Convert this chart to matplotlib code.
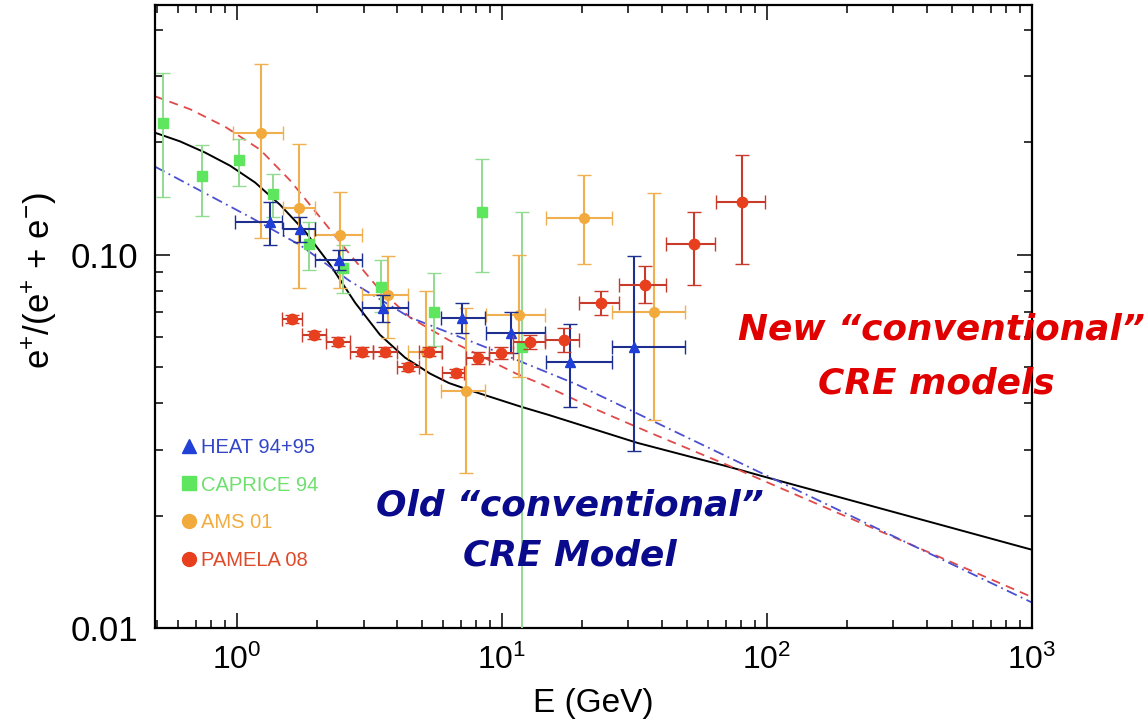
import matplotlib
matplotlib.use("Agg")
import matplotlib.pyplot as plt
from matplotlib.lines import Line2D
from matplotlib.ticker import FixedLocator, FixedFormatter, LogLocator, NullFormatter
import numpy as np

plt.rcParams['font.family'] = ['Liberation Sans', 'DejaVu Sans']
plt.rcParams['mathtext.fontset'] = 'custom'
plt.rcParams['mathtext.rm'] = 'Liberation Sans'
plt.rcParams['mathtext.it'] = 'Liberation Sans:italic'
plt.rcParams['mathtext.default'] = 'regular'

# model curves
black_e = [0.49, 0.609, 0.757, 0.941, 1.169, 1.452, 1.806, 2.244, 2.79, 3.46, 4.3, 5.35, 6.3, 7.57, 11.7,
           15, 32.5, 72, 100, 206, 1000]
black_r = [0.212, 0.201, 0.1876, 0.173, 0.156, 0.136, 0.1153, 0.094, 0.0743, 0.061, 0.053, 0.048, 0.0453,
           0.0433, 0.0392, 0.0372, 0.0313, 0.027, 0.0253, 0.022, 0.0162]

red_e = [0.49, 0.665, 0.901, 1.221, 1.585, 2.112, 2.669, 3.375, 4.5, 6.3, 11.3, 14.1, 21.7, 35.6, 71, 1000]
red_r = [0.2654, 0.245, 0.220, 0.191, 0.158, 0.123, 0.100, 0.082, 0.0678, 0.059, 0.048, 0.045, 0.039,
         0.0335, 0.0273, 0.0121]

blue_e = [0.49, 1.12, 1.73, 2.66, 4.47, 8.4, 19, 90, 1000]
blue_r = [0.172, 0.126, 0.106, 0.085, 0.068, 0.057, 0.045, 0.0265, 0.0117]

# HEAT 94+95
heat_e = [1.33, 1.73, 2.42, 3.54, 7.07, 10.8, 18.0, 31.6]
heat_r = [0.1226, 0.117, 0.097, 0.072, 0.0678, 0.0618, 0.0517, 0.0567]
heat_elo = [0.98, 1.49, 1.96, 2.97, 5.9, 8.7, 14.6, 25.9]
heat_ehi = [1.48, 1.96, 2.97, 4.4, 8.6, 14.5, 25.9, 49]
heat_rlo = [0.106, 0.108, 0.091, 0.066, 0.0618, 0.0546, 0.039, 0.0298]
heat_rhi = [0.138, 0.126, 0.103, 0.078, 0.0744, 0.0703, 0.065, 0.0994]

# CAPRICE 94
cap_e = [0.527, 0.739, 1.02, 1.37, 1.87, 2.5, 3.48, 5.55, 8.4, 11.9]
cap_r = [0.2245, 0.162, 0.179, 0.145, 0.107, 0.092, 0.082, 0.0703, 0.130, 0.0564]
cap_rlo = [0.143, 0.127, 0.153, 0.126, 0.091, 0.079, 0.070, 0.057, 0.090, 0.001]
cap_rhi = [0.307, 0.196, 0.204, 0.164, 0.122, 0.106, 0.097, 0.0895, 0.18, 0.13]

# AMS 01
ams_e = [1.23, 1.72, 2.44, 3.7, 5.15, 7.3, 11.6, 20.3, 37.6]
ams_r = [0.212, 0.1336, 0.113, 0.078, 0.055, 0.043, 0.069, 0.125, 0.070]
ams_elo = [0.966, 1.49, 1.95, 2.97, 4.4, 5.9, 8.7, 14.6, 25.9]
ams_ehi = [1.49, 1.96, 2.95, 4.4, 5.9, 8.6, 14.5, 25.9, 49]
ams_rlo = [0.111, 0.0816, 0.0816, 0.0599, 0.033, 0.026, 0.047, 0.0946, 0.036]
ams_rhi = [0.323, 0.198, 0.147, 0.0994, 0.080, 0.072, 0.100, 0.163, 0.146]

# PAMELA 08
pam_e = [1.61, 1.95, 2.4, 2.95, 3.63, 4.43, 5.3, 6.7, 8.1, 9.9, 12.8, 17.1, 23.6, 34.5, 52.8, 80.6]
pam_r = [0.0673, 0.061, 0.0585, 0.055, 0.055, 0.050, 0.055, 0.0483, 0.053, 0.0546, 0.0585, 0.059,
         0.0743, 0.083, 0.107, 0.138]
pam_elo = [1.48, 1.76, 2.16, 2.66, 3.27, 4.01, 4.88, 5.93, 7.34, 8.92, 11.0, 14.5, 19.6, 27.7, 41.5, 64]
pam_ehi = [1.76, 2.16, 2.66, 3.27, 4.01, 4.88, 5.93, 7.2, 8.92, 11.0, 14.5, 19.6, 27.7, 41.5, 63.5, 98]
pam_rlo = [0.0656, 0.0595, 0.0570, 0.0536, 0.0536, 0.0488, 0.0536, 0.0471, 0.0510, 0.0525, 0.056, 0.055,
           0.069, 0.074, 0.083, 0.0946]
pam_rhi = [0.0690, 0.0625, 0.0600, 0.0564, 0.0564, 0.0512, 0.0564, 0.0495, 0.0550, 0.0567, 0.061, 0.0634,
           0.080, 0.093, 0.130, 0.185]

legend_labels = ['HEAT 94+95', 'CAPRICE 94', 'AMS 01', 'PAMELA 08']


def asym(c, lo, hi):
    c = np.array(c)
    return [c - np.array(lo), np.array(hi) - c]


fig = plt.figure(figsize=(11.47, 7.27), dpi=100)
ax = fig.add_axes([155 / 1147, 99 / 727, 877 / 1147, 623 / 727])

# curves
ax.plot(black_e, black_r, color='black', lw=1.4, zorder=2)
ax.plot(red_e, red_r, color='#e04a4a', lw=1.3, dashes=(5, 3.5), zorder=2)
ax.plot(blue_e, blue_r, color='#4a50d0', lw=1.3, dashes=(6, 2.5, 1, 2.5), zorder=2)

# data
ax.errorbar(cap_e, cap_r, yerr=asym(cap_r, cap_rlo, cap_rhi), fmt='s', ms=7,
            mfc='#5ee65e', mec='#5ee65e', ecolor='#92dc92', elinewidth=1.4, capsize=5, zorder=3)
ax.errorbar(ams_e, ams_r, xerr=asym(ams_e, ams_elo, ams_ehi), yerr=asym(ams_r, ams_rlo, ams_rhi),
            fmt='o', ms=7, mfc='#f2aa3c', mec='#f2aa3c', ecolor='#f0b050', elinewidth=1.5, capsize=5, zorder=3)
ax.errorbar(heat_e, heat_r, xerr=asym(heat_e, heat_elo, heat_ehi), yerr=asym(heat_r, heat_rlo, heat_rhi),
            fmt='^', ms=7, mfc='#1f3fd8', mec='#1f3fd8', ecolor='#1e2f90', elinewidth=1.5, capsize=5, zorder=4)
ax.errorbar(pam_e, pam_r, xerr=asym(pam_e, pam_elo, pam_ehi), yerr=asym(pam_r, pam_rlo, pam_rhi),
            fmt='o', ms=7.5, mfc='#e8401e', mec='#e8401e', ecolor='#c83a2a', elinewidth=1.5, capsize=5, zorder=5)

ax.set_xscale('log')
ax.set_yscale('log')
ax.set_xlim(0.49, 1000)
ax.set_ylim(0.01, 0.466)

ax.yaxis.set_major_locator(FixedLocator([0.01, 0.1]))
ax.yaxis.set_major_formatter(FixedFormatter(['0.01', '0.10']))
ax.yaxis.set_minor_locator(LogLocator(base=10, subs=np.arange(2, 10)))
ax.yaxis.set_minor_formatter(NullFormatter())
ax.xaxis.set_minor_formatter(NullFormatter())

ax.tick_params(which='both', direction='in', top=True, right=True, width=1.1, colors='black')
ax.tick_params(which='major', length=11)
ax.tick_params(which='minor', length=6)
ax.tick_params(axis='y', labelsize=25, pad=12)
ax.tick_params(axis='x', labelsize=23, pad=12)
for sp in ax.spines.values():
    sp.set_linewidth(1.6)

ax.set_xlabel('E (GeV)', fontsize=24, labelpad=9)
fig.text(40 / 1147, 1 - 281 / 727, 'e$^{+}$/(e$^{+}$ + e$^{-}$)', fontsize=25,
         rotation=90, ha='center', va='center')

# legend
handles = [Line2D([], [], marker='^', ls='none', color='#2040d8', ms=10),
           Line2D([], [], marker='s', ls='none', color='#5ee65e', ms=10),
           Line2D([], [], marker='o', ls='none', color='#f2aa3c', ms=10),
           Line2D([], [], marker='o', ls='none', color='#e8401e', ms=10)]
leg = ax.legend(handles, legend_labels, loc='upper left', bbox_to_anchor=(0.031, 0.305),
                frameon=False, fontsize=14.5, handlelength=0.7, handletextpad=0.25,
                labelspacing=0.92, borderpad=0, borderaxespad=0)
for t, c in zip(leg.get_texts(), ['#3346c8', '#6ee06e', '#f2ac40', '#e04a2a']):
    t.set_color(c)

# annotations
fig.text(941 / 1147, 1 - 330 / 727, 'New \u201cconventional\u201d', fontsize=25.8, family='DejaVu Sans',
         weight='bold', style='italic', color='#e00000', ha='center', va='center')
fig.text(936 / 1147, 1 - 383 / 727, 'CRE models', fontsize=25.8, family='DejaVu Sans',
         weight='bold', style='italic', color='#e00000', ha='center', va='center')
fig.text(570 / 1147, 1 - 505 / 727, 'Old \u201cconventional\u201d', fontsize=25.8, family='DejaVu Sans',
         weight='bold', style='italic', color='#0a0a8c', ha='center', va='center')
fig.text(570 / 1147, 1 - 555 / 727, 'CRE Model', fontsize=25.8, family='DejaVu Sans',
         weight='bold', style='italic', color='#0a0a8c', ha='center', va='center')

fig.savefig('out.png', dpi=100)
